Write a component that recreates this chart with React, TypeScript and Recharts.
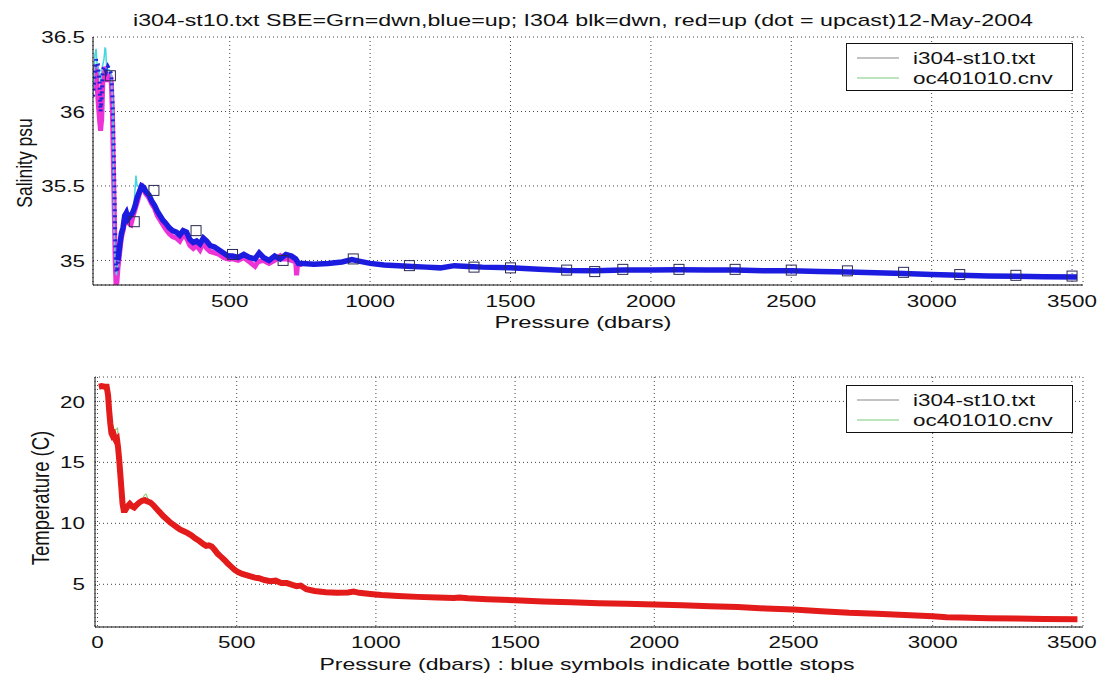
import React from 'react';
import { ComposedChart, Line, Scatter, XAxis, YAxis, CartesianGrid, Legend } from 'recharts';

// ---------- text ----------
const TITLE = 'i304-st10.txt  SBE=Grn=dwn,blue=up; I304  blk=dwn, red=up (dot = upcast)12-May-2004';
const LEGEND_NAMES = ['i304-st10.txt', 'oc401010.cnv'];
const SAL_YLABEL = 'Salinity psu';
const SAL_XLABEL = 'Pressure (dbars)';
const TEMP_YLABEL = 'Temperature (C)';
const TEMP_XLABEL = 'Pressure (dbars) :  blue symbols indicate bottle stops';

// ---------- ticks ----------
const salXTicks = [500, 1000, 1500, 2000, 2500, 3000, 3500];
const salYTicks = [35, 35.5, 36, 36.5];
const tempXTicks = [0, 500, 1000, 1500, 2000, 2500, 3000, 3500];
const tempYTicks = [5, 10, 15, 20];

// ---------- salinity: blue upcast (shallow dotted part) ----------
const salBlueShallowP = [13, 18, 24, 30, 36, 40, 44, 48, 54, 60, 66, 72, 78, 82, 86, 89, 92, 95, 98, 102];
const salBlueShallowS = [36.1, 36.22, 36.35, 36.32, 36.2, 36.0, 36.1, 36.28, 36.3, 36.27, 36.3, 36.28, 36.25, 36.1, 35.8, 35.5, 35.15, 34.95, 34.92, 35.0];

// ---------- salinity: blue upcast (deep solid part) ----------
const salBlueP = [102, 108, 114, 120, 126, 132, 138, 146, 154, 162, 170, 178, 186, 194, 202, 212, 222, 232, 242, 252, 262, 272, 284, 296, 310, 322, 334, 346, 358, 370, 382, 394, 406, 418, 430, 446, 462, 478, 494, 510, 530, 550, 570, 590, 605, 620, 640, 660, 680, 700, 720, 735, 745, 760, 800, 850, 900, 935, 960, 1000, 1050, 1100, 1150, 1200, 1250, 1300, 1350, 1400, 1500, 1600, 1700, 1800, 1900, 2000, 2100, 2200, 2300, 2400, 2500, 2600, 2700, 2800, 2900, 3000, 3100, 3200, 3300, 3400, 3518];
const salBlueS = [35.0, 35.1, 35.18, 35.22, 35.3, 35.32, 35.28, 35.3, 35.32, 35.36, 35.42, 35.46, 35.5, 35.49, 35.46, 35.44, 35.4, 35.37, 35.33, 35.3, 35.27, 35.25, 35.22, 35.2, 35.19, 35.17, 35.2, 35.19, 35.14, 35.12, 35.13, 35.11, 35.15, 35.13, 35.1, 35.09, 35.07, 35.05, 35.03, 35.03, 35.02, 35.04, 35.02, 35.01, 35.05, 35.02, 35.0, 35.03, 35.01, 35.04, 35.03, 35.01, 34.98, 34.98, 34.975, 34.98, 34.99, 35.005, 34.995, 34.98, 34.97, 34.965, 34.96, 34.955, 34.95, 34.965, 34.96, 34.955, 34.95, 34.94, 34.932, 34.93, 34.935, 34.935, 34.937, 34.935, 34.935, 34.93, 34.93, 34.925, 34.922, 34.918, 34.912, 34.905, 34.9, 34.895, 34.893, 34.89, 34.888];

// ---------- salinity: magenta upcast dots ----------
const salUpP = [13, 18, 24, 30, 36, 40, 44, 48, 54, 60, 66, 72, 78, 82, 86, 89, 92, 95, 98, 102, 108, 114, 120, 126, 132, 140, 148, 156, 164, 172, 180, 190, 200, 212, 222, 232, 242, 252, 262, 272, 284, 296, 310, 322, 334, 346, 358, 370, 382, 394, 406, 418, 430, 446, 462, 478, 494, 510, 530, 550, 570, 590, 600, 620, 640, 660, 680, 690, 700, 720, 735, 738, 742, 760];
const salUpS = [36.15, 36.3, 36.3, 36.1, 35.95, 35.87, 35.95, 36.2, 36.3, 36.25, 36.2, 36.25, 36.2, 36.0, 35.6, 35.3, 35.0, 34.84, 34.85, 34.95, 35.05, 35.15, 35.2, 35.26, 35.3, 35.25, 35.24, 35.3, 35.35, 35.4, 35.46, 35.49, 35.45, 35.42, 35.38, 35.35, 35.3, 35.27, 35.24, 35.21, 35.18, 35.16, 35.15, 35.13, 35.17, 35.15, 35.1, 35.08, 35.1, 35.07, 35.12, 35.08, 35.06, 35.05, 35.04, 35.02, 35.01, 35.01, 35.0, 35.02, 34.99, 34.96, 34.99, 35.0, 34.98, 35.0, 35.03, 35.01, 35.01, 35.0, 34.99, 34.9, 34.98, 34.97];

// ---------- salinity: cyan SBE trace ----------
const salSbeP = [13, 20, 24, 28, 34, 40, 46, 52, 56, 58, 62, 70, 78, 84, 88, 92, 96, 100, 110, 120, 130, 140, 150, 160, 166, 170, 178, 190, 200];
const salSbeS = [36.1, 36.38, 36.42, 36.3, 36.28, 36.2, 36.3, 36.35, 36.43, 36.42, 36.28, 36.28, 36.25, 36.0, 35.2, 35.0, 34.9, 34.95, 35.1, 35.25, 35.33, 35.3, 35.3, 35.4, 35.57, 35.5, 35.5, 35.51, 35.47];

// ---------- salinity: bottle stops ----------
const bottleP = [75, 160, 230, 380, 510, 690, 940, 1140, 1370, 1500, 1700, 1800, 1900, 2100, 2300, 2500, 2700, 2900, 3100, 3300, 3500];
const bottleS = [36.24, 35.26, 35.47, 35.2, 35.04, 35.0, 35.01, 34.965, 34.955, 34.95, 34.935, 34.925, 34.94, 34.94, 34.94, 34.935, 34.93, 34.92, 34.905, 34.9, 34.895];

// ---------- temperature: red upcast ----------
const tempP = [5, 15, 25, 33, 38, 42, 46, 50, 54, 58, 62, 66, 70, 74, 78, 82, 86, 90, 94, 100, 108, 116, 124, 132, 140, 150, 160, 170, 180, 190, 200, 212, 224, 236, 248, 260, 272, 284, 296, 310, 324, 338, 352, 366, 380, 390, 400, 410, 420, 432, 444, 456, 468, 480, 492, 505, 520, 535, 550, 565, 580, 600, 620, 640, 660, 680, 700, 715, 730, 750, 780, 820, 860, 900, 920, 940, 980, 1020, 1080, 1150, 1220, 1280, 1300, 1330, 1400, 1500, 1600, 1700, 1800, 1900, 2000, 2100, 2200, 2300, 2400, 2500, 2600, 2700, 2800, 2900, 3000, 3050, 3100, 3200, 3300, 3400, 3520];
const tempT = [21.2, 21.25, 21.2, 21.2, 20.5, 19.2, 18.2, 17.4, 17.2, 17.3, 17.0, 16.8, 16.9, 16.2, 15.2, 14.0, 12.8, 11.6, 11.1, 11.1, 11.4, 11.6, 11.4, 11.3, 11.5, 11.7, 11.85, 11.9, 11.8, 11.7, 11.5, 11.2, 10.9, 10.6, 10.35, 10.1, 9.9, 9.7, 9.5, 9.35, 9.2, 9.0, 8.75, 8.55, 8.3, 8.15, 8.2, 8.1, 7.85, 7.5, 7.25, 7.0, 6.7, 6.45, 6.2, 6.0, 5.85, 5.75, 5.65, 5.55, 5.5, 5.35, 5.25, 5.3, 5.1, 5.1, 4.95, 4.85, 4.9, 4.6, 4.45, 4.35, 4.3, 4.33, 4.4, 4.3, 4.2, 4.12, 4.05, 3.97, 3.92, 3.87, 3.92, 3.85, 3.78, 3.7, 3.6, 3.52, 3.45, 3.4, 3.34, 3.28, 3.2, 3.13, 3.02, 2.93, 2.8, 2.66, 2.58, 2.48, 2.38, 2.3, 2.28, 2.22, 2.2, 2.16, 2.14];

// ---------- temperature: thin downcast traces (shallow part, rest hidden under red) ----------
const tempDownP = [5, 30, 45, 60, 75, 80, 84, 88, 95, 120, 150, 165, 172, 180, 200, 224, 260];
const tempDownT = [21.2, 21.2, 18.8, 17.5, 16.5, 14.8, 13.0, 12.4, 11.3, 11.5, 11.7, 12.0, 12.1, 11.9, 11.6, 10.9, 10.1];
const tempSbeP = [5, 30, 45, 60, 72, 78, 84, 90, 100, 130, 160, 168, 174, 182, 200, 224, 260];
const tempSbeT = [21.2, 21.2, 18.8, 17.6, 17.8, 16.0, 13.5, 11.8, 11.2, 11.4, 11.9, 12.3, 12.4, 12.0, 11.6, 10.9, 10.1];

const zip = (ps: number[], vs: number[]) => ps.map((p, i) => ({ p, v: vs[i] }));

const FONT = "'Liberation Sans', Arial, Helvetica, sans-serif";
const SX = 1.32;
const FS = 17;

const fmt = (v: number) => String(v);

const XTick = (dy: number) => (props: any) => {
  const { x, y, payload } = props;
  return (
    <g transform={`translate(${x},${y})`}>
      <text transform={`scale(${SX},1)`} x={0} y={0} dy={dy} textAnchor="middle" fontSize={FS} fontFamily={FONT} fill="#111">
        {fmt(payload.value)}
      </text>
    </g>
  );
};

const YTick = (dx: number) => (props: any) => {
  const { x, y, payload } = props;
  return (
    <g transform={`translate(${x + dx},${y})`}>
      <text transform={`scale(${SX},1)`} x={0} y={0} dy="0.36em" textAnchor="end" fontSize={FS} fontFamily={FONT} fill="#111">
        {fmt(payload.value)}
      </text>
    </g>
  );
};

const LegendBox = () => (
  <svg width={227} height={48} style={{ display: 'block' }}>
    <rect x={0.5} y={0.5} width={226} height={47} fill="#fff" stroke="#111" strokeWidth={1} />
    <line x1={11} y1={15} x2={53} y2={15} stroke="#888" strokeWidth={1.2} />
    <line x1={11} y1={35} x2={53} y2={35} stroke="#7ccc7c" strokeWidth={1.2} />
    <text transform={`translate(67,15) scale(${SX},1)`} dy="0.36em" fontSize={FS} fontFamily={FONT} fill="#111">{LEGEND_NAMES[0]}</text>
    <text transform={`translate(67,35) scale(${SX},1)`} dy="0.36em" fontSize={FS} fontFamily={FONT} fill="#111">{LEGEND_NAMES[1]}</text>
  </svg>
);

const BottleSquare = (props: any) => {
  const { cx, cy } = props;
  return <rect x={cx - 5} y={cy - 5} width={10} height={10} fill="none" stroke="#2a2a55" strokeWidth={1} />;
};

const GRID = '#444';

export default function App() {
  return (
    <div style={{ position: 'absolute', left: 0, top: 0, width: 1102, height: 677, background: '#fff' }}>
      <div style={{ position: 'absolute', left: 0, top: 0 }}>
        <ComposedChart width={1102} height={340} margin={{ top: 37, right: 19, bottom: 25, left: 33 }}>
          <CartesianGrid xAxisId="b" yAxisId="l" stroke={GRID} strokeDasharray="1 3" />
          <XAxis xAxisId="b" type="number" dataKey="p" domain={[13, 3539]} ticks={salXTicks} allowDataOverflow
            height={30} tickLine={false} tickSize={0} tickMargin={0} axisLine={{ stroke: '#111' }} tick={XTick(22)} />
          <XAxis xAxisId="t" orientation="top" type="number" dataKey="p" domain={[13, 3539]} allowDataOverflow
            height={0} tick={false} tickLine={false} axisLine={{ stroke: '#111' }} />
          <YAxis yAxisId="l" type="number" dataKey="v" domain={[34.835, 36.5]} ticks={salYTicks} allowDataOverflow
            width={60} tickLine={false} tickSize={0} tickMargin={0} axisLine={{ stroke: '#111' }} tick={YTick(-8)} />
          <YAxis yAxisId="r" orientation="right" type="number" dataKey="v" domain={[34.835, 36.5]} allowDataOverflow
            width={0} tick={false} tickLine={false} axisLine={{ stroke: '#111' }} />
          <Line xAxisId="b" yAxisId="l" data={zip(salUpP, salUpS)} dataKey="v" type="linear" dot={false}
            stroke="#ee33d6" strokeWidth={5} isAnimationActive={false} />
          <Line xAxisId="b" yAxisId="l" data={zip(salSbeP, salSbeS)} dataKey="v" type="linear" dot={false}
            stroke="#45d6e0" strokeWidth={1.5} isAnimationActive={false} />
          <Line xAxisId="b" yAxisId="l" data={zip(salBlueShallowP, salBlueShallowS)} dataKey="v" type="linear" dot={false}
            stroke="#2323d8" strokeWidth={4} strokeDasharray="2 4" isAnimationActive={false} />
          <Line xAxisId="b" yAxisId="l" data={zip(salBlueP, salBlueS)} dataKey="v" type="linear" dot={false}
            stroke="#1c1ce0" strokeWidth={5.5} isAnimationActive={false} />
          <Scatter xAxisId="b" yAxisId="l" data={zip(bottleP, bottleS)} dataKey="v" shape={BottleSquare} isAnimationActive={false} />
          <Legend layout="vertical" align="center" verticalAlign="middle" content={() => <LegendBox />}
            wrapperStyle={{ position: 'absolute', left: 846, top: 43, width: 227, height: 48 }} />
          <text x={583} y={26} textAnchor="middle" fontSize={FS} fontFamily={FONT} fill="#111"
            textLength={900} lengthAdjust="spacingAndGlyphs">{TITLE}</text>
          <text x={583} y={328} textAnchor="middle" fontSize={FS} fontFamily={FONT} fill="#111"
            textLength={177} lengthAdjust="spacingAndGlyphs">{SAL_XLABEL}</text>
          <text transform="translate(24,163) rotate(-90) scale(1,1.3)" x={0} y={0} dy="0.36em" textAnchor="middle"
            fontSize={17.5} fontFamily={FONT} fill="#111">{SAL_YLABEL}</text>
        </ComposedChart>
      </div>
      <div style={{ position: 'absolute', left: 0, top: 340 }}>
        <ComposedChart width={1102} height={337} margin={{ top: 37, right: 19, bottom: 20, left: 35 }}>
          <CartesianGrid xAxisId="b" yAxisId="l" stroke={GRID} strokeDasharray="1 3" />
          <XAxis xAxisId="b" type="number" dataKey="p" domain={[-9, 3540]} ticks={tempXTicks} allowDataOverflow
            height={30} tickLine={false} tickSize={0} tickMargin={0} axisLine={{ stroke: '#111' }} tick={XTick(21)} />
          <XAxis xAxisId="t" orientation="top" type="number" dataKey="p" domain={[-9, 3540]} allowDataOverflow
            height={0} tick={false} tickLine={false} axisLine={{ stroke: '#111' }} />
          <YAxis yAxisId="l" type="number" dataKey="v" domain={[1.5, 22]} ticks={tempYTicks} allowDataOverflow
            width={60} tickLine={false} tickSize={0} tickMargin={0} axisLine={{ stroke: '#111' }} tick={YTick(-10)} />
          <YAxis yAxisId="r" orientation="right" type="number" dataKey="v" domain={[1.5, 22]} allowDataOverflow
            width={0} tick={false} tickLine={false} axisLine={{ stroke: '#111' }} />
          <Line xAxisId="b" yAxisId="l" data={zip(tempSbeP, tempSbeT)} dataKey="v" type="linear" dot={false}
            stroke="#8fd07a" strokeWidth={1.2} isAnimationActive={false} />
          <Line xAxisId="b" yAxisId="l" data={zip(tempDownP, tempDownT)} dataKey="v" type="linear" dot={false}
            stroke="#333" strokeWidth={1} isAnimationActive={false} />
          <Line xAxisId="b" yAxisId="l" data={zip(tempP, tempT)} dataKey="v" type="linear" dot={false}
            stroke="#e31b1b" strokeWidth={6} isAnimationActive={false} />
          <Legend layout="vertical" align="center" verticalAlign="middle" content={() => <LegendBox />}
            wrapperStyle={{ position: 'absolute', left: 846, top: 45, width: 227, height: 48 }} />
          <text x={587} y={330} textAnchor="middle" fontSize={FS} fontFamily={FONT} fill="#111"
            textLength={535} lengthAdjust="spacingAndGlyphs">{TEMP_XLABEL}</text>
          <text transform="translate(40,158) rotate(-90) scale(1,1.3)" x={0} y={0} dy="0.36em" textAnchor="middle"
            fontSize={18.5} fontFamily={FONT} fill="#111">{TEMP_YLABEL}</text>
        </ComposedChart>
      </div>
    </div>
  );
}
